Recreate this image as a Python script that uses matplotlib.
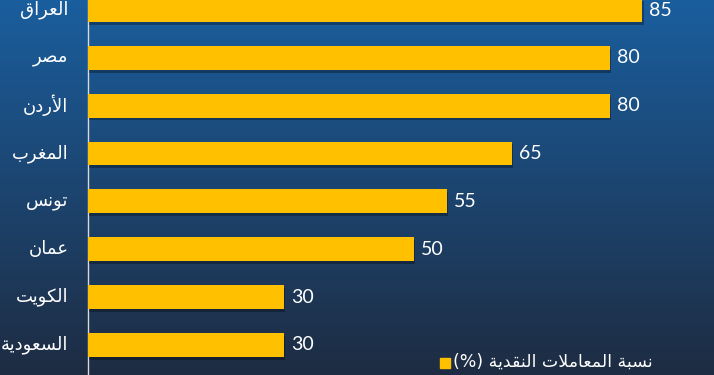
import numpy as np
import matplotlib.pyplot as plt
from matplotlib import patheffects as pe

countries = ["السعودية", "الكويت", "عمان", "تونس", "المغرب", "الأردن", "مصر", "العراق"]
values = [30, 30, 50, 55, 65, 80, 80, 85]
legend_label = "نسبة المعاملات النقدية (%)"

# minimal arabic shaping: (isolated, final, initial, medial); None = right-joining only
FORMS = {
    "ا": ("\uFE8D", "\uFE8E", None, None),
    "أ": ("\uFE83", "\uFE84", None, None),
    "ب": ("\uFE8F", "\uFE90", "\uFE91", "\uFE92"),
    "ة": ("\uFE93", "\uFE94", None, None),
    "ت": ("\uFE95", "\uFE96", "\uFE97", "\uFE98"),
    "د": ("\uFEA9", "\uFEAA", None, None),
    "ر": ("\uFEAD", "\uFEAE", None, None),
    "س": ("\uFEB1", "\uFEB2", "\uFEB3", "\uFEB4"),
    "ص": ("\uFEB9", "\uFEBA", "\uFEBB", "\uFEBC"),
    "ع": ("\uFEC9", "\uFECA", "\uFECB", "\uFECC"),
    "غ": ("\uFECD", "\uFECE", "\uFECF", "\uFED0"),
    "ق": ("\uFED5", "\uFED6", "\uFED7", "\uFED8"),
    "ك": ("\uFED9", "\uFEDA", "\uFEDB", "\uFEDC"),
    "ل": ("\uFEDD", "\uFEDE", "\uFEDF", "\uFEE0"),
    "م": ("\uFEE1", "\uFEE2", "\uFEE3", "\uFEE4"),
    "ن": ("\uFEE5", "\uFEE6", "\uFEE7", "\uFEE8"),
    "و": ("\uFEED", "\uFEEE", None, None),
    "ي": ("\uFEF1", "\uFEF2", "\uFEF3", "\uFEF4"),
}
LAM_ALEF = {"ا": ("\uFEFB", "\uFEFC"), "أ": ("\uFEF7", "\uFEF8")}


def shape_word(w):
    out = []
    i = 0
    prev_joins = False
    while i < len(w):
        c = w[i]
        if c == "ل" and i + 1 < len(w) and w[i + 1] in LAM_ALEF:
            iso, fin = LAM_ALEF[w[i + 1]]
            out.append(fin if prev_joins else iso)
            prev_joins = False
            i += 2
            continue
        f = FORMS[c]
        dual = f[2] is not None
        nxt = i + 1 < len(w) and w[i + 1] in FORMS
        if prev_joins and dual and nxt:
            out.append(f[3])
        elif prev_joins:
            out.append(f[1])
        elif dual and nxt:
            out.append(f[2])
        else:
            out.append(f[0])
        prev_joins = dual
        i += 1
    return "".join(reversed(out))


def rtl(text):
    words = []
    for w in text.split(" "):
        words.append(shape_word(w) if w[0] in FORMS else w)
    return " ".join(reversed(words))


fig = plt.figure(figsize=(7.14, 3.75), dpi=100)

# background gradient
bg = fig.add_axes([0, 0, 1, 1], zorder=-1)
top = np.array([26, 94, 158]) / 255
bottom = np.array([30, 44, 66]) / 255
t = np.linspace(0, 1, 256)[:, None]
grad = top + (bottom - top) * t
bg.imshow(grad[:, None, :].repeat(2, axis=1), aspect="auto", extent=[0, 1, 0, 1])
bg.axis("off")

ax = fig.add_axes([88 / 714, 0, 1 - 88 / 714, 1])
ax.patch.set_alpha(0)
y = np.arange(len(countries))
bars = ax.barh(y, values, height=0.5, color="#FFC000", zorder=3)
for b in bars:
    b.set_path_effects([pe.SimplePatchShadow(offset=(1, -2), shadow_rgbFace="black", alpha=0.3), pe.Normal()])

ax.set_xlim(0, 96)
ax.set_ylim(-0.63, 7.21)
ax.set_xticks([])
ax.set_yticks([])
for s in ["top", "right", "bottom"]:
    ax.spines[s].set_visible(False)
ax.spines["left"].set_color("#d9d9d9")
ax.spines["left"].set_linewidth(1.0)

for yi, name, v in zip(y, countries, values):
    ax.text(-3.0, yi, rtl(name), ha="right", va="center", color="white",
            fontsize=13, family="DejaVu Sans", clip_on=False)
    ax.text(v + 1.1, yi, str(v), ha="left", va="center", color="white",
            fontsize=14, family="Lato")

# legend
fig.patches.append(plt.Rectangle((440 / 714, 7 / 375), 10 / 714, 10 / 375,
                                 transform=fig.transFigure, color="#FFC000"))
fig.text(453 / 714, 13 / 375, rtl(legend_label), ha="left", va="center",
         color="white", fontsize=12.5, family="DejaVu Sans")

fig.savefig("out.png", dpi=100)
